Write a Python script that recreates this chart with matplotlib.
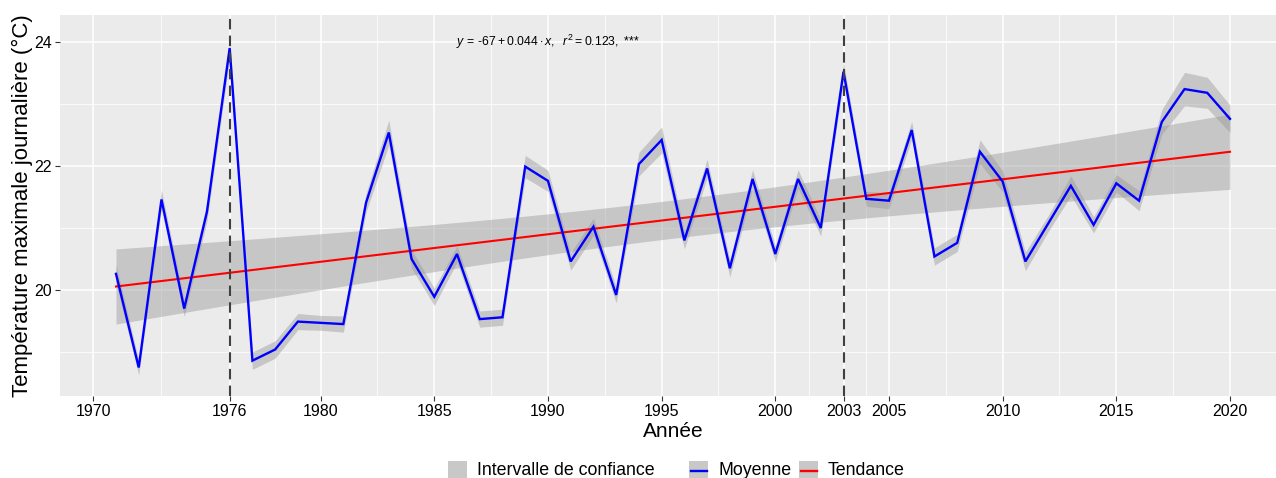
import numpy as np
import matplotlib
matplotlib.use("Agg")
import matplotlib.pyplot as plt
from matplotlib.patches import Rectangle
from matplotlib.lines import Line2D

plt.rcParams["font.family"] = ["Liberation Sans", "DejaVu Sans"]
plt.rcParams["mathtext.fontset"] = "custom"
plt.rcParams["mathtext.rm"] = "Liberation Sans"
plt.rcParams["mathtext.it"] = "Liberation Sans:italic"

# Annual mean of daily maximum temperature (°C)
years = list(range(1971, 2021))
tmax_mean = [
    20.26, 18.75, 21.46, 19.70, 21.26, 23.90, 18.86, 19.04, 19.49, 19.47,
    19.45, 21.41, 22.54, 20.50, 19.89, 20.58, 19.53, 19.56, 21.99, 21.76,
    20.46, 21.02, 19.92, 22.03, 22.42, 20.80, 21.96, 20.35, 21.79, 20.58,
    21.79, 21.00, 23.52, 21.47, 21.44, 22.58, 20.54, 20.76, 22.23, 21.75,
    20.46, 21.07, 21.68, 21.05, 21.72, 21.44, 22.71, 23.24, 23.18, 22.76,
]
# Half-width of the confidence interval around each annual mean
tmax_ci = [
    0.15, 0.12, 0.15, 0.13, 0.15, 0.16, 0.14, 0.14, 0.13, 0.12,
    0.13, 0.15, 0.20, 0.15, 0.14, 0.13, 0.13, 0.13, 0.18, 0.17,
    0.14, 0.14, 0.13, 0.19, 0.21, 0.14, 0.15, 0.14, 0.15, 0.13,
    0.15, 0.13, 0.15, 0.12, 0.13, 0.14, 0.14, 0.14, 0.19, 0.17,
    0.15, 0.13, 0.16, 0.13, 0.14, 0.16, 0.20, 0.27, 0.25, 0.22,
]
heatwave_years = [1976, 2003]
x_ticks = [1970, 1976, 1980, 1985, 1990, 1995, 2000, 2003, 2005, 2010, 2015, 2020]
y_ticks = [20, 22, 24]
equation_label = r"$y\,=\,\text{-}67+0.044\cdot x,\ \ r^2=0.123,$ ***"

# Linear trend with 95 % confidence band (OLS)
x = np.asarray(years, dtype=float)
y = np.asarray(tmax_mean)
mean_lo = y - np.asarray(tmax_ci)
mean_hi = y + np.asarray(tmax_ci)
slope, intercept = np.polyfit(x, y, 1)
n = len(x)
resid = y - (intercept + slope * x)
s = np.sqrt(np.sum(resid ** 2) / (n - 2))
sxx = np.sum((x - x.mean()) ** 2)
t_crit = 2.0106  # Student t, 0.975 quantile, 48 degrees of freedom
xf = np.linspace(x.min(), x.max(), 200)
yf = intercept + slope * xf
se = s * np.sqrt(1.0 / n + (xf - x.mean()) ** 2 / sxx)

W, H = 1276, 478
fig = plt.figure(figsize=(W / 100, H / 100), dpi=100)
fig.patch.set_facecolor("white")


def fx(px):
    return px / W


def fy(py):
    return 1 - py / H


left_px, right_px, top_px, bottom_px = 60.3, 1285.7, 15, 396
ax = fig.add_axes([fx(left_px), fy(bottom_px), fx(right_px - left_px), (bottom_px - top_px) / H])
ax.set_facecolor("#EBEBEB")
for sp in ax.spines.values():
    sp.set_visible(False)

ax.set_xlim(1968.55, 2022.45)
ax.set_ylim(18.29, 24.435)
ax.set_xticks(x_ticks)
ax.set_yticks(y_ticks)
xt = np.asarray(x_ticks, dtype=float)
ax.set_xticks((xt[:-1] + xt[1:]) / 2, minor=True)
ax.set_yticks([19, 21, 23], minor=True)
ax.grid(which="major", color="white", linewidth=1.1)
ax.grid(which="minor", color="white", linewidth=0.55)
ax.set_axisbelow(True)
ax.tick_params(which="major", length=3.5, width=0.8, color="#333333",
               labelsize=11.5, labelcolor="black", pad=2.5)
ax.tick_params(which="minor", length=0)

band_color = "#999999"
ax.fill_between(xf, yf - t_crit * se, yf + t_crit * se, color=band_color,
                alpha=0.45, linewidth=0, zorder=2)
ax.fill_between(x, mean_lo, mean_hi, color=band_color, alpha=0.45,
                linewidth=0, zorder=2)
ax.plot(x, y, color="blue", linewidth=1.7, zorder=4, solid_joinstyle="miter")
ax.plot(xf, yf, color="red", linewidth=1.5, zorder=3)
for yr in heatwave_years:
    ax.axvline(yr, color="#404040", linewidth=1.5, linestyle=(0, (5, 3)), zorder=5)

ax.text(1985.95, 24.0, equation_label, fontsize=8.85, ha="left", va="center", color="black")

ax.set_xlabel("Année", fontsize=15, labelpad=2)
ax.set_ylabel("Température maximale journalière (°C)", fontsize=16)
ax.yaxis.set_label_coords(-(left_px - 33) / (right_px - left_px), 0.5)

# Legend: fill key, then colour keys
key_fill = "#C8C8C8"
ky, kh, kw = 461, 19, 19
fig.add_artist(Rectangle((fx(448), fy(ky + kh)), fx(kw), kh / H, transform=fig.transFigure,
                         facecolor=key_fill, edgecolor="none"))
fig.text(fx(477), fy(470.5), "Intervalle de confiance", fontsize=12.8, va="center", ha="left")
for kx, col, lab in [(689, "blue", "Moyenne"), (799, "red", "Tendance")]:
    fig.add_artist(Rectangle((fx(kx), fy(ky + kh)), fx(kw), kh / H, transform=fig.transFigure,
                             facecolor=key_fill, edgecolor="none"))
    fig.add_artist(Line2D([fx(kx + 1.5), fx(kx + kw - 1.5)], [fy(ky + kh / 2)] * 2,
                          transform=fig.transFigure, color=col, linewidth=1.7))
    fig.text(fx(kx + 29), fy(470.5), lab, fontsize=12.8, va="center", ha="left")

fig.savefig("out.png", dpi=100)
